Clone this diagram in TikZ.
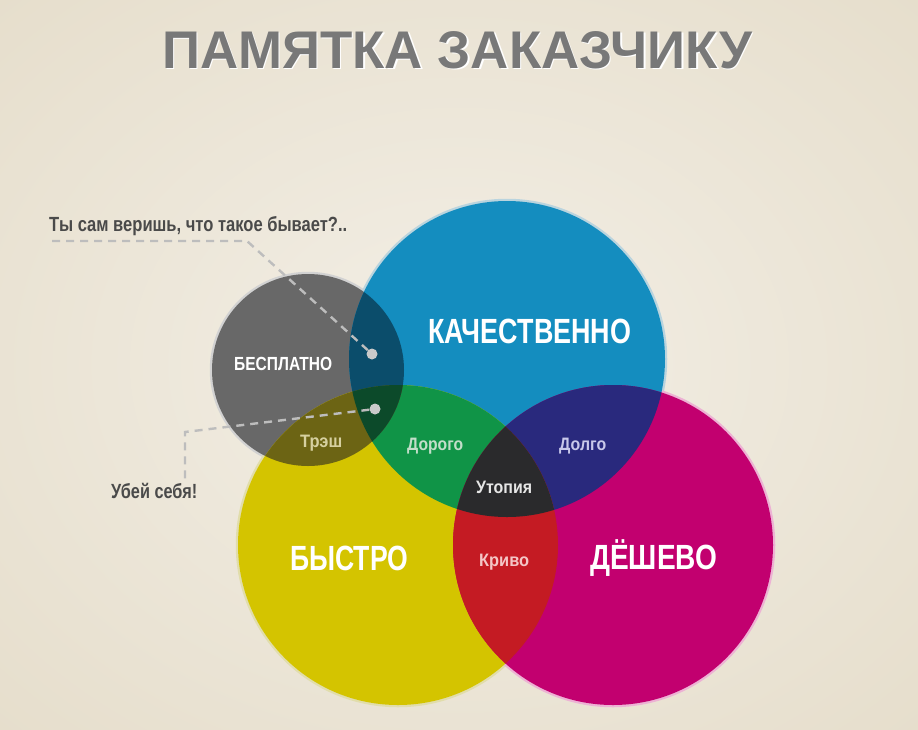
\documentclass[tikz,border=0pt]{standalone}
\usepackage{fontspec}
\usepackage{graphicx}
\setmainfont{Liberation Sans}
\newcommand{\wt}[3]{\resizebox{#1pt}{\height}{\fontsize{#2}{#2}\selectfont\bfseries #3}}
\definecolor{paperin}{HTML}{F3EFE6}
\definecolor{paperout}{HTML}{E6DECC}
\definecolor{cB}{HTML}{148DBF}
\definecolor{cY}{HTML}{D4C400}
\definecolor{cM}{HTML}{C2006F}
\definecolor{cG}{HTML}{686868}
\definecolor{cGB}{HTML}{0B4D6B}
\definecolor{cGY}{HTML}{6C6414}
\definecolor{cGBY}{HTML}{0C4A2A}
\definecolor{cBY}{HTML}{109447}
\definecolor{cBM}{HTML}{29297D}
\definecolor{cYM}{HTML}{C41B23}
\definecolor{cBYM}{HTML}{2A2A2C}
\definecolor{titlegray}{HTML}{787878}
\definecolor{notegray}{HTML}{4A4A4A}
\definecolor{dashgray}{HTML}{BDBDBD}
\definecolor{dotgray}{HTML}{CACACA}
\definecolor{tTrash}{HTML}{D6D0A0}
\definecolor{tDorogo}{HTML}{C2DEC9}
\definecolor{tDolgo}{HTML}{C8C8EA}
\definecolor{tUtop}{HTML}{E6E6E6}
\definecolor{tKrivo}{HTML}{F4C6C6}
\begin{document}
\begin{tikzpicture}[x=1pt,y=-1pt,
  lbl/.style={inner sep=0pt, anchor=base west},
  rim/.style={line width=2.5pt},
  leader/.style={draw=dashgray, line width=2.4pt, dash pattern=on 8pt off 6pt},
  dotmark/.style={circle, fill=dotgray, inner sep=0pt, minimum size=11pt}]
\useasboundingbox (0,0) rectangle (918,729);
\fill[paperout] (0,0) rectangle (918,729);
\shade[inner color=paperin, outer color=paperout] (-200,-150) rectangle (1118,879);
% circle centres
\coordinate (G) at (308,370);
\coordinate (B) at (507,359);
\coordinate (Y) at (398,545);
\coordinate (M) at (613,545);
\def\rG{96pt}\def\rB{158pt}\def\rY{160pt}\def\rM{160pt}
% rims
\draw[rim, draw=cG!30!white] (G) circle[radius=97pt];
\draw[rim, draw=cB!25!white!85!gray] (B) circle[radius=159pt];
\draw[rim, draw=cY!30!white!85!gray] (Y) circle[radius=161pt];
\draw[rim, draw=cM!30!white] (M) circle[radius=161pt];
% base fills
\fill[cG] (G) circle[radius=\rG];
\fill[cB] (B) circle[radius=\rB];
\fill[cY] (Y) circle[radius=\rY];
\fill[cM] (M) circle[radius=\rM];
% pairwise intersections
\begin{scope}\clip (B) circle[radius=\rB]; \fill[cBY] (Y) circle[radius=\rY];\end{scope}
\begin{scope}\clip (B) circle[radius=\rB]; \fill[cBM] (M) circle[radius=\rM];\end{scope}
\begin{scope}\clip (Y) circle[radius=\rY]; \fill[cYM] (M) circle[radius=\rM];\end{scope}
\begin{scope}\clip (G) circle[radius=\rG]; \fill[cGB] (B) circle[radius=\rB];\end{scope}
\begin{scope}\clip (G) circle[radius=\rG]; \fill[cGY] (Y) circle[radius=\rY];\end{scope}
% triple intersections
\begin{scope}\clip (B) circle[radius=\rB]; \clip (Y) circle[radius=\rY]; \fill[cBYM] (M) circle[radius=\rM];\end{scope}
\begin{scope}\clip (G) circle[radius=\rG]; \clip (B) circle[radius=\rB]; \fill[cGBY] (Y) circle[radius=\rY];\end{scope}
% title
\node[lbl, text=white] at (163.5,69.5) {\wt{590}{53}{ПАМЯТКА ЗАКАЗЧИКУ}};
\node[lbl, text=titlegray] (title) at (162,68) {\wt{590}{53}{ПАМЯТКА ЗАКАЗЧИКУ}};
% notes
\node[lbl, text=notegray] (note1) at (49,231) {\wt{298}{20.5}{Ты сам веришь, что такое бывает?..}};
\node[lbl, text=notegray] (note2) at (111,498) {\wt{86}{20.5}{Убей себя!}};
% leaders
\node[dotmark] (dot1) at (372,354) {};
\node[dotmark] (dot2) at (375,409) {};
\coordinate (l1a) at (52,241);
\coordinate (l1b) at (247,241);
\coordinate (l2a) at (185,432);
\coordinate (l2b) at (185,482);
\draw[leader] (l1a) -- (l1b) -- (dot1);
\draw[leader] (dot2) -- (l2a) -- (l2b);
% main labels
\node[lbl, text=white] (free) at (234,370) {\wt{98}{19}{БЕСПЛАТНО}};
\node[lbl, text=white] (qual) at (428,343) {\wt{203}{35}{КАЧЕСТВЕННО}};
\node[lbl, text=white] (fast) at (290,570) {\wt{118}{35}{БЫСТРО}};
\node[lbl, text=white] (cheap) at (590,569) {\wt{127}{35}{ДЁШЕВО}};
% region labels
\node[lbl, text=tTrash] (trash) at (300,447) {\wt{42}{18}{Трэш}};
\node[lbl, text=tDorogo] (dorogo) at (407,450) {\wt{56}{18}{Дорого}};
\node[lbl, text=tDolgo] (dolgo) at (559,450) {\wt{47}{18}{Долго}};
\node[lbl, text=tUtop] (utop) at (476,493) {\wt{56}{18}{Утопия}};
\node[lbl, text=tKrivo] (krivo) at (479,566) {\wt{50}{18}{Криво}};
\end{tikzpicture}
\end{document}
